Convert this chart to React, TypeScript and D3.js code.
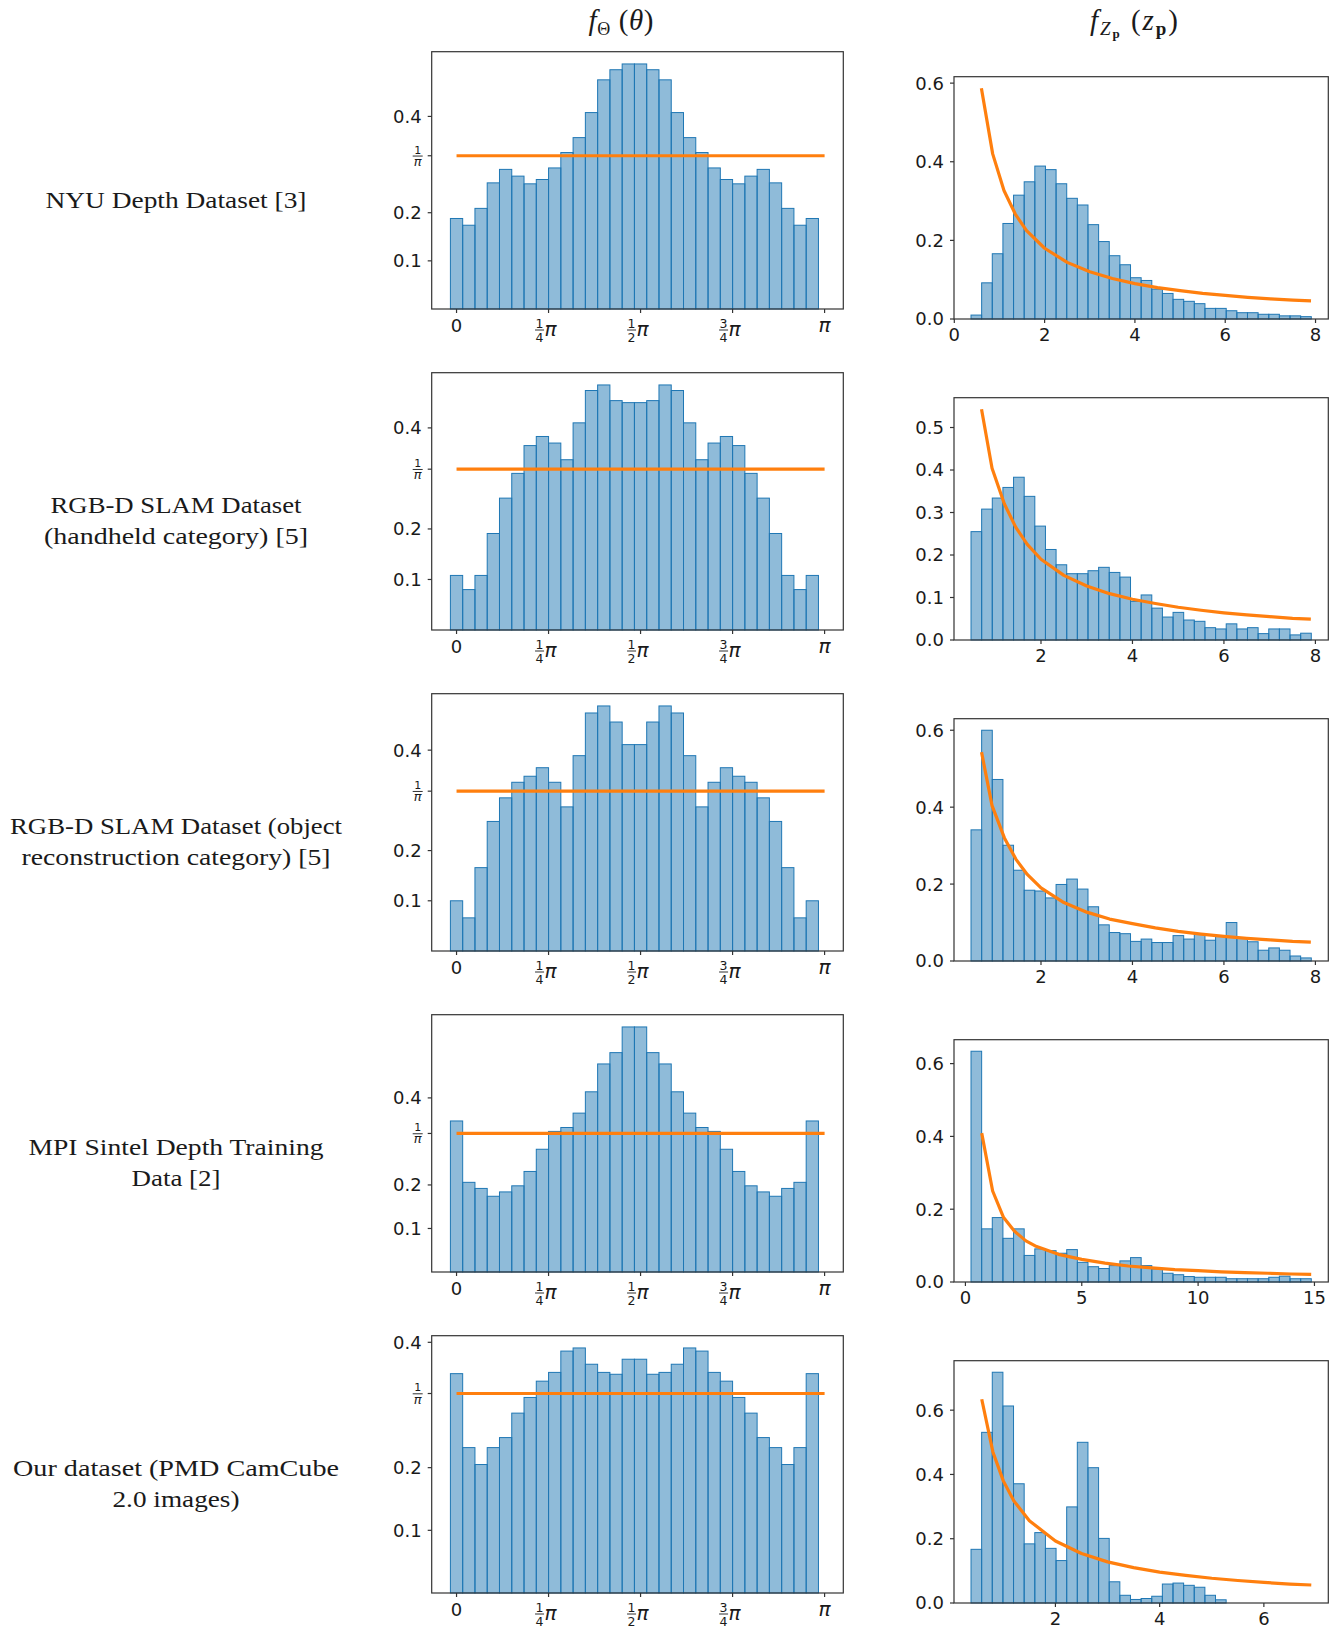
import React from 'react';
import * as d3 from 'd3';

const PI = Math.PI;

// ---------- DATA ----------
const rowLabels: string[][] = [
  ['NYU Depth Dataset [3]'],
  ['RGB-D SLAM Dataset', '(handheld category) [5]'],
  ['RGB-D SLAM Dataset (object', 'reconstruction category) [5]'],
  ['MPI Sintel Depth Training', 'Data [2]'],
  ['Our dataset (PMD CamCube', '2.0 images)'],
];
const rowLabelWidths: number[][] = [
  [261],
  [251, 264],
  [332, 309],
  [295, 89],
  [326, 127],
];

// theta histograms: 30 bins centred on k*pi/30
const THETA_BIN_START = -PI / 60;
const THETA_BIN_WIDTH = PI / 30;
const thetaNYU = [0.188,0.174,0.209,0.262,0.290,0.276,0.260,0.269,0.293,0.325,0.356,0.408,0.476,0.497,0.509,0.509,0.497,0.476,0.408,0.356,0.325,0.293,0.269,0.260,0.276,0.290,0.262,0.209,0.174,0.188];
const thetaHandheld = [0.108,0.080,0.108,0.191,0.261,0.310,0.365,0.383,0.370,0.337,0.410,0.474,0.485,0.454,0.450,0.450,0.454,0.485,0.474,0.410,0.337,0.370,0.383,0.365,0.310,0.261,0.191,0.108,0.080,0.108];
const thetaObject = [0.100,0.066,0.166,0.258,0.305,0.336,0.348,0.365,0.336,0.287,0.389,0.474,0.488,0.456,0.411,0.411,0.456,0.488,0.474,0.389,0.287,0.336,0.365,0.348,0.336,0.305,0.258,0.166,0.066,0.100];
const thetaSintel = [0.347,0.206,0.192,0.174,0.184,0.198,0.231,0.282,0.323,0.332,0.365,0.414,0.478,0.504,0.563,0.563,0.504,0.478,0.414,0.365,0.332,0.323,0.282,0.231,0.198,0.184,0.174,0.192,0.206,0.347];
const thetaOurs = [0.350,0.232,0.205,0.232,0.248,0.287,0.312,0.338,0.352,0.386,0.391,0.365,0.352,0.349,0.373,0.373,0.349,0.352,0.365,0.391,0.386,0.352,0.338,0.312,0.287,0.248,0.232,0.205,0.232,0.350];
const thetaSeries = [thetaNYU, thetaHandheld, thetaObject, thetaSintel, thetaOurs];
const uniformX = [0, PI];
const uniformY = [1 / PI, 1 / PI];
const thetaTickValues = [0, PI / 4, PI / 2, (3 * PI) / 4, PI];
const thetaTickNums = ['', '1', '1', '3', ''];
const thetaTickDens = ['', '4', '2', '4', ''];
const thetaYTicks = [0.1, 0.2, 0.4];

// z histograms
const zStarts = [0.37, 0.47, 0.47, 0.24, 0.38];
const zWidths = [0.2355, 0.2325, 0.2325, 0.457, 0.204];
const zNYU = [0.010,0.092,0.166,0.243,0.315,0.349,0.389,0.380,0.344,0.307,0.290,0.240,0.197,0.161,0.138,0.105,0.098,0.076,0.065,0.050,0.045,0.039,0.027,0.027,0.021,0.016,0.016,0.012,0.012,0.008,0.008,0.006];
const zHandheld = [0.255,0.308,0.334,0.359,0.383,0.338,0.268,0.213,0.177,0.156,0.156,0.163,0.171,0.159,0.148,0.091,0.106,0.075,0.054,0.065,0.047,0.044,0.029,0.026,0.038,0.026,0.029,0.015,0.026,0.026,0.012,0.016];
const zObject = [0.341,0.600,0.472,0.301,0.236,0.184,0.182,0.164,0.199,0.213,0.187,0.141,0.094,0.074,0.071,0.051,0.057,0.048,0.048,0.066,0.057,0.071,0.054,0.065,0.100,0.059,0.050,0.028,0.034,0.028,0.013,0.008];
const zSintel = [0.634,0.146,0.177,0.120,0.146,0.073,0.091,0.086,0.079,0.089,0.054,0.042,0.037,0.045,0.058,0.067,0.045,0.036,0.024,0.020,0.015,0.013,0.013,0.013,0.009,0.009,0.009,0.009,0.013,0.016,0.009,0.009];
const zOurs = [0.167,0.531,0.718,0.613,0.371,0.184,0.219,0.170,0.132,0.299,0.500,0.421,0.201,0.066,0.024,0.011,0.014,0.021,0.059,0.062,0.055,0.049,0.024,0.010,0,0,0,0,0,0,0,0];
const zSeries = [zNYU, zHandheld, zObject, zSintel, zOurs];

const curveXNYU = [0.6,0.85,1.1,1.35,1.6,2.0,2.5,3.0,3.5,4.0,4.5,5.0,5.5,6.0,6.5,7.0,7.5,7.9];
const curveYNYU = [0.587,0.420,0.327,0.267,0.225,0.180,0.144,0.120,0.103,0.090,0.080,0.072,0.065,0.060,0.055,0.051,0.048,0.046];
const curveXHandheld = [0.7,0.93,1.2,1.45,1.7,2.0,2.5,3.0,3.5,4.0,4.5,5.0,5.5,6.0,6.5,7.0,7.5,7.9];
const curveYHandheld = [0.543,0.404,0.320,0.265,0.225,0.190,0.152,0.127,0.109,0.096,0.086,0.077,0.070,0.064,0.059,0.055,0.051,0.049];
const curveXObject = [0.7,0.93,1.2,1.45,1.7,2.0,2.5,3.0,3.5,4.0,4.5,5.0,5.5,6.0,6.5,7.0,7.5,7.9];
const curveYObject = [0.543,0.404,0.320,0.265,0.225,0.190,0.152,0.127,0.109,0.097,0.086,0.077,0.070,0.064,0.059,0.055,0.051,0.049];
const curveXSintel = [0.7,1.17,1.64,2.1,2.6,3.0,4.0,5.0,6.0,7.0,8.0,9.0,10.0,11.0,12.0,13.0,14.0,14.86];
const curveYSintel = [0.409,0.250,0.177,0.140,0.113,0.099,0.076,0.062,0.052,0.044,0.039,0.034,0.031,0.028,0.026,0.024,0.022,0.021];
const curveXOurs = [0.586,0.8,1.0,1.2,1.5,2.0,2.5,3.0,3.5,4.0,4.5,5.0,5.5,6.0,6.5,6.91];
const curveYOurs = [0.634,0.470,0.380,0.318,0.256,0.193,0.154,0.128,0.110,0.096,0.086,0.077,0.070,0.064,0.059,0.056];
const curveXs = [curveXNYU, curveXHandheld, curveXObject, curveXSintel, curveXOurs];
const curveYs = [curveYNYU, curveYHandheld, curveYObject, curveYSintel, curveYOurs];

const zXTicks = [[0, 2, 4, 6, 8], [2, 4, 6, 8], [2, 4, 6, 8], [0, 5, 10, 15], [2, 4, 6]];
const zYTicks = [
  [0, 0.2, 0.4, 0.6],
  [0, 0.1, 0.2, 0.3, 0.4, 0.5],
  [0, 0.2, 0.4, 0.6],
  [0, 0.2, 0.4, 0.6],
  [0, 0.2, 0.4, 0.6],
];

// ---------- LAYOUT ----------
const W = 1338;
const H = 1631;
const ROW_TOP0 = 51.7;
const ROW_STEP = 321;
const TH_LEFT = 431.7;
const TH_RIGHT = 843.3;
const TH_H = 257.3;
const Z_LEFT = 954;
const Z_RIGHT = 1328.3;
const Z_H = 242.3;
const Z_OFF = 25;
const LABEL_X = 176;
const LABEL_DY = 149;

const BAR_FILL = '#1f77b4';
const LINE_COLOR = '#ff7f0e';
const SPINE = '#333333';
const TEXT = '#1a1a1a';
const TICK_FONT = 'DejaVu Sans, sans-serif';
const TICK_SIZE = 18;

function withMargins(lo: number, hi: number): [number, number] {
  const span = hi - lo;
  return [lo - 0.05 * span, hi + 0.05 * span];
}

function Spines({ l, r, t, b }: { l: number; r: number; t: number; b: number }) {
  return (
    <rect x={l} y={t} width={r - l} height={b - t} fill="none" stroke={SPINE} strokeWidth={1.2} />
  );
}

function ThetaPanel({ values, top }: { values: number[]; top: number }) {
  const bottom = top + TH_H;
  const binEnd = THETA_BIN_START + values.length * THETA_BIN_WIDTH;
  const xDom = withMargins(Math.min(THETA_BIN_START, uniformX[0]), Math.max(binEnd, uniformX[1]));
  const x = d3.scaleLinear().domain(xDom).range([TH_LEFT, TH_RIGHT]);
  const yMax = Math.max(d3.max(values) as number, uniformY[0]) * 1.05;
  const y = d3.scaleLinear().domain([0, yMax]).range([bottom, top]);
  const line = d3.line<number>().x((_, i) => x(uniformX[i])).y((_, i) => y(uniformY[i]));
  const invPi = 1 / PI;
  return (
    <g>
      {values.map((v, i) => {
        const x0 = THETA_BIN_START + i * THETA_BIN_WIDTH;
        const x1 = x0 + THETA_BIN_WIDTH;
        return (
          <rect key={i} x={x(x0)} y={y(v)} width={x(x1) - x(x0)} height={y(0) - y(v)}
            fill={BAR_FILL} fillOpacity={0.5} stroke={BAR_FILL} strokeWidth={1} />
        );
      })}
      <path d={line(uniformX) as string} fill="none" stroke={LINE_COLOR} strokeWidth={3.2} />
      <Spines l={TH_LEFT} r={TH_RIGHT} t={top} b={bottom} />
      {/* y ticks */}
      {thetaYTicks.map((t) => (
        <g key={t}>
          <line x1={TH_LEFT - 4} x2={TH_LEFT} y1={y(t)} y2={y(t)} stroke={SPINE} strokeWidth={1.2} />
          <text x={TH_LEFT - 10} y={y(t)} dy="0.36em" textAnchor="end" fontFamily={TICK_FONT}
            fontSize={TICK_SIZE} fill={TEXT}>{t.toFixed(1)}</text>
        </g>
      ))}
      <g>
        <line x1={TH_LEFT - 4} x2={TH_LEFT} y1={y(invPi)} y2={y(invPi)} stroke={SPINE} strokeWidth={1.2} />
        <text x={TH_LEFT - 14} y={y(invPi) - 2.2} textAnchor="middle" fontFamily={TICK_FONT}
          fontSize={11} fill={TEXT}>1</text>
        <line x1={TH_LEFT - 19} x2={TH_LEFT - 9} y1={y(invPi) + 0.3} y2={y(invPi) + 0.3}
          stroke={TEXT} strokeWidth={0.9} />
        <text x={TH_LEFT - 14} y={y(invPi) + 10} textAnchor="middle" fontFamily={TICK_FONT}
          fontSize={13} fontStyle="italic" fill={TEXT}>π</text>
      </g>
      {/* x ticks */}
      {thetaTickValues.map((t, i) => {
        const tx = x(t);
        return (
          <g key={i}>
            <line x1={tx} x2={tx} y1={bottom} y2={bottom + 4} stroke={SPINE} strokeWidth={1.2} />
            {i === 0 ? (
              <text x={tx} y={bottom + 22.5} textAnchor="middle" fontFamily={TICK_FONT}
                fontSize={TICK_SIZE} fill={TEXT}>0</text>
            ) : i === thetaTickValues.length - 1 ? (
              <text x={tx} y={bottom + 23} textAnchor="middle" fontFamily={TICK_FONT}
                fontSize={20} fontStyle="italic" fill={TEXT}>π</text>
            ) : (
              <g>
                <text x={tx - 9} y={bottom + 19} textAnchor="middle" fontFamily={TICK_FONT}
                  fontSize={12.5} fill={TEXT}>{thetaTickNums[i]}</text>
                <line x1={tx - 13.5} x2={tx - 4.5} y1={bottom + 21} y2={bottom + 21}
                  stroke={TEXT} strokeWidth={0.9} />
                <text x={tx - 9} y={bottom + 33} textAnchor="middle" fontFamily={TICK_FONT}
                  fontSize={12.5} fill={TEXT}>{thetaTickDens[i]}</text>
                <text x={tx - 4} y={bottom + 26.5} textAnchor="start" fontFamily={TICK_FONT}
                  fontSize={20} fontStyle="italic" fill={TEXT}>π</text>
              </g>
            )}
          </g>
        );
      })}
    </g>
  );
}

function ZPanel({ idx, top }: { idx: number; top: number }) {
  const values = zSeries[idx];
  const start = zStarts[idx];
  const w = zWidths[idx];
  const cx = curveXs[idx];
  const cy = curveYs[idx];
  const bottom = top + Z_H;
  const binEnd = start + values.length * w;
  const xDom = withMargins(Math.min(start, cx[0]), Math.max(binEnd, cx[cx.length - 1]));
  const x = d3.scaleLinear().domain(xDom).range([Z_LEFT, Z_RIGHT]);
  const yMax = Math.max(d3.max(values) as number, d3.max(cy) as number) * 1.05;
  const y = d3.scaleLinear().domain([0, yMax]).range([bottom, top]);
  const line = d3.line<number>().x((_, i) => x(cx[i])).y((_, i) => y(cy[i]));
  return (
    <g>
      {values.map((v, i) => {
        if (v <= 0) return null;
        const x0 = start + i * w;
        const x1 = x0 + w;
        return (
          <rect key={i} x={x(x0)} y={y(v)} width={x(x1) - x(x0)} height={y(0) - y(v)}
            fill={BAR_FILL} fillOpacity={0.5} stroke={BAR_FILL} strokeWidth={1} />
        );
      })}
      <path d={line(cx) as string} fill="none" stroke={LINE_COLOR} strokeWidth={3.2}
        strokeLinejoin="round" />
      <Spines l={Z_LEFT} r={Z_RIGHT} t={top} b={bottom} />
      {zYTicks[idx].map((t) => (
        <g key={t}>
          <line x1={Z_LEFT - 4} x2={Z_LEFT} y1={y(t)} y2={y(t)} stroke={SPINE} strokeWidth={1.2} />
          <text x={Z_LEFT - 10} y={y(t)} dy="0.36em" textAnchor="end" fontFamily={TICK_FONT}
            fontSize={TICK_SIZE} fill={TEXT}>{d3.format('.1f')(t)}</text>
        </g>
      ))}
      {zXTicks[idx].map((t) => (
        <g key={t}>
          <line x1={x(t)} x2={x(t)} y1={bottom} y2={bottom + 4} stroke={SPINE} strokeWidth={1.2} />
          <text x={x(t)} y={bottom + 22} textAnchor="middle" fontFamily={TICK_FONT}
            fontSize={TICK_SIZE} fill={TEXT}>{String(t)}</text>
        </g>
      ))}
    </g>
  );
}

export default function App() {
  const serif = 'Liberation Serif, DejaVu Serif, serif';
  return (
    <svg width={W} height={H} viewBox={`0 0 ${W} ${H}`}
      style={{ position: 'absolute', left: 0, top: 0, background: '#fff' }}>
      <rect x={0} y={0} width={W} height={H} fill="#fff" />
      {/* column titles */}
      <text x={621} y={30} textAnchor="middle" fontFamily={serif} fontSize={29} fill={TEXT}
        textLength={65} lengthAdjust="spacing">
        <tspan fontStyle="italic">f</tspan>
        <tspan fontSize={18} dy={5}>Θ</tspan>
        <tspan dy={-5}> (</tspan>
        <tspan fontStyle="italic">θ</tspan>
        <tspan>)</tspan>
      </text>
      <text x={1134} y={30} textAnchor="middle" fontFamily={serif} fontSize={29} fill={TEXT}
        textLength={88} lengthAdjust="spacing">
        <tspan fontStyle="italic">f</tspan>
        <tspan fontSize={19} dy={5} fontStyle="italic">Z</tspan>
        <tspan fontSize={13} dy={3} fontWeight="bold">p</tspan>
        <tspan dy={-8}> (</tspan>
        <tspan fontStyle="italic">z</tspan>
        <tspan fontSize={19} dy={5} fontWeight="bold">p</tspan>
        <tspan dy={-5}>)</tspan>
      </text>
      {rowLabels.map((lines, r) => {
        const top = ROW_TOP0 + r * ROW_STEP;
        const cy = top + LABEL_DY;
        const n = lines.length;
        return (
          <g key={r}>
            {lines.map((ln, j) => {
              const yc = cy + (j - (n - 1) / 2) * 31;
              return (
                <text key={j} x={LABEL_X} y={yc + 7} textAnchor="middle" fontFamily={serif}
                  fontSize={23} fill={TEXT} textLength={rowLabelWidths[r][j]}
                  lengthAdjust="spacingAndGlyphs">{ln}</text>
              );
            })}
          </g>
        );
      })}
      {thetaSeries.map((vals, r) => (
        <ThetaPanel key={'t' + r} values={vals} top={ROW_TOP0 + r * ROW_STEP} />
      ))}
      {zSeries.map((_, r) => (
        <ZPanel key={'z' + r} idx={r} top={ROW_TOP0 + r * ROW_STEP + Z_OFF} />
      ))}
    </svg>
  );
}
